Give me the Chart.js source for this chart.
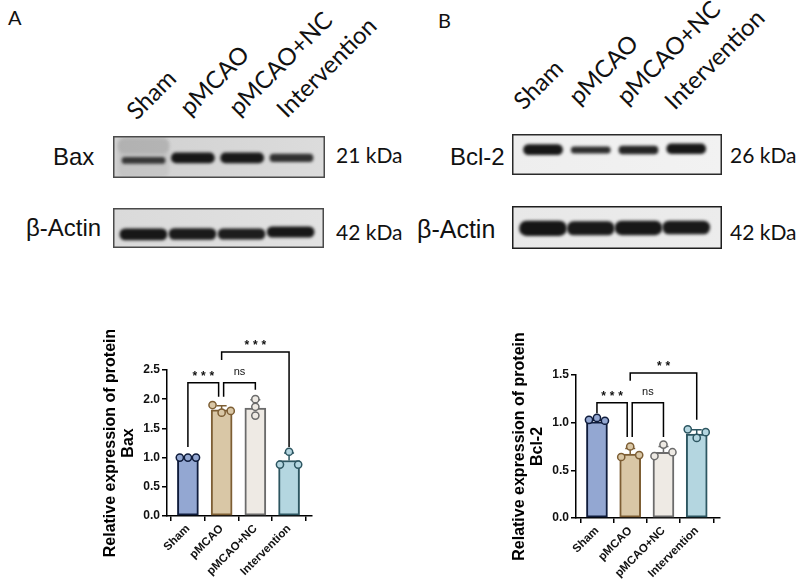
<!DOCTYPE html>
<html>
<head>
<meta charset="utf-8">
<script src="https://cdn.jsdelivr.net/npm/chart.js@4.4.0/dist/chart.umd.min.js"></script>
<style>
  body { margin: 0; background: #fff; width: 806px; height: 584px; position: relative; overflow: hidden; font-family: "Liberation Sans", Arial, sans-serif; }
  canvas { position: absolute; }
  .t { position: absolute; line-height: 1; white-space: nowrap; color: #111; }
  .lat { font-family: Lato, sans-serif; }
  .lane { position: absolute; line-height: 1; white-space: nowrap; font-family: Lato, sans-serif; font-size: 24px; color: #111;
          transform-origin: 0 21.3px; transform: rotate(-45deg); }
</style>
</head>
<body>

<div class="t lat" style="left:8px;top:7px;font-size:20px">A</div>
<div class="t lat" style="left:438px;top:10px;font-size:20px">B</div>

<div class="lane" style="left:137px;top:100px">Sham</div>
<div class="lane" style="left:190px;top:96px">pMCAO</div>
<div class="lane" style="left:239px;top:96px">pMCAO+NC</div>
<div class="lane" style="left:287px;top:98px">Intervention</div>

<div class="lane" style="left:524px;top:90px">Sham</div>
<div class="lane" style="left:579px;top:85px">pMCAO</div>
<div class="lane" style="left:627px;top:85px">pMCAO+NC</div>
<div class="lane" style="left:675px;top:90px">Intervention</div>

<div class="t" style="left:53px;top:145px;font-size:24px">Bax</div>
<div class="t" style="left:26px;top:216px;font-size:24px">β-Actin</div>
<div class="t lat" style="left:336px;top:144px;font-size:21px">21 kDa</div>
<div class="t lat" style="left:336px;top:221px;font-size:21px">42 kDa</div>

<div class="t" style="left:450px;top:145px;font-size:24px">Bcl-2</div>
<div class="t" style="left:417px;top:217px;font-size:25px">β-Actin</div>
<div class="t lat" style="left:730px;top:144px;font-size:21px">26 kDa</div>
<div class="t lat" style="left:730px;top:221px;font-size:21px">42 kDa</div>

<canvas id="blotBax" width="212" height="42" style="left:113px;top:136px"></canvas>
<canvas id="blotActinA" width="211" height="40" style="left:113px;top:208px"></canvas>
<canvas id="blotBcl" width="210" height="41" style="left:512px;top:134px"></canvas>
<canvas id="blotActinB" width="210" height="43" style="left:512px;top:206px"></canvas>

<canvas id="chartBax" width="240" height="250" style="left:85px;top:330px"></canvas>
<canvas id="chartBcl" width="240" height="250" style="left:490px;top:330px"></canvas>

<script>
// groups and values
var groups = ['Sham', 'pMCAO', 'pMCAO+NC', 'Intervention'];

var baxMean = [1.0, 1.82, 1.85, 0.95];
var baxPoints = [[1.0, 1.0, 1.0], [1.9, 1.77, 1.8], [2.0, 1.87, 1.72], [1.1, 0.88, 0.88]];
var baxTicks = [0, 0.5, 1.0, 1.5, 2.0, 2.5];

var bclMean = [1.01, 0.67, 0.69, 0.88];
var bclPoints = [[1.03, 1.05, 1.02], [0.75, 0.64, 0.66], [0.77, 0.65, 0.69], [0.93, 0.84, 0.90]];
var bclTicks = [0, 0.5, 1.0, 1.5];

// western blot bands: vertical centre and height as fraction of the membrane, darkness 0..1
var baxBandY = [0.58, 0.52, 0.52, 0.52];
var baxBandH = [0.15, 0.24, 0.24, 0.18];
var baxBandDark = [0.8, 0.98, 0.97, 0.85];

var actinABandY = [0.66, 0.65, 0.65, 0.6];
var actinABandH = [0.28, 0.27, 0.26, 0.26];
var actinABandDark = [0.98, 0.96, 0.95, 0.98];

var bclBandY = [0.38, 0.39, 0.39, 0.36];
var bclBandH = [0.25, 0.16, 0.19, 0.24];
var bclBandDark = [0.98, 0.88, 0.92, 0.98];

var actinBBandY = [0.52, 0.52, 0.51, 0.5];
var actinBBandH = [0.34, 0.31, 0.32, 0.3];
var actinBBandDark = [0.99, 0.97, 0.98, 0.97];

var fills = ['#93a7d2', '#d9c7a6', '#eeeae4', '#b4d6e0'];
var edges = ['#0f1c3c', '#7d5e34', '#6b6b6b', '#2d5661'];

Chart.defaults.font.family = '"Liberation Sans", Arial, sans-serif';
Chart.defaults.color = '#111';

function stdev(arr) {
  var m = arr.reduce(function (a, b) { return a + b; }, 0) / arr.length;
  var s = arr.reduce(function (a, b) { return a + (b - m) * (b - m); }, 0) / (arr.length - 1);
  return Math.sqrt(s);
}

// spread overlapping dots sideways like a scatter dot plot
function swarm(vals, gap) {
  var idx = vals.map(function (v, i) { return i; }).sort(function (a, b) { return vals[b] - vals[a]; });
  var rows = [];
  idx.forEach(function (i) {
    var row = rows[rows.length - 1];
    if (row && Math.abs(vals[row[0]] - vals[i]) < gap) row.push(i);
    else rows.push([i]);
  });
  var off = [];
  rows.forEach(function (row) {
    row.sort(function (a, b) { return a - b; });
    var step = row.length === 2 ? 0.54 : 0.24;
    row.forEach(function (i, k) { off[i] = (k - (row.length - 1) / 2) * step; });
  });
  return off;
}

function barChart(id, means, points, ticks, yMax, title, xRange, padL, padR, padT, xH, gap, brackets) {
  var dots = [], dotFill = [], dotEdge = [];
  points.forEach(function (p, g) {
    var off = swarm(p, gap);
    p.forEach(function (v, k) {
      dots.push({ x: g + off[k], y: v });
      dotFill.push(fills[g]);
      dotEdge.push(edges[g]);
    });
  });

  var errorBars = {
    id: 'errorBars',
    afterDatasetDraw: function (chart, args) {
      if (args.index !== 0) return;
      var ctx = chart.ctx, x = chart.scales.x, y = chart.scales.y;
      ctx.save();
      ctx.lineWidth = 1.5;
      points.forEach(function (p, i) {
        var px = x.getPixelForValue(i);
        var top = y.getPixelForValue(means[i] + stdev(p));
        var base = y.getPixelForValue(means[i]);
        ctx.strokeStyle = edges[i];
        ctx.beginPath();
        ctx.moveTo(px, base); ctx.lineTo(px, top);
        ctx.moveTo(px - 5, top); ctx.lineTo(px + 5, top);
        ctx.stroke();
      });
      ctx.restore();
    }
  };

  var sig = {
    id: 'sig',
    afterDraw: function (chart) {
      var ctx = chart.ctx, x = chart.scales.x, y = chart.scales.y;
      ctx.save();
      ctx.strokeStyle = '#000';
      ctx.fillStyle = '#111';
      ctx.lineWidth = 1.5;
      ctx.textAlign = 'center';
      ctx.textBaseline = 'alphabetic';
      brackets.forEach(function (b) {
        var xa = x.getPixelForValue(b.from) + b.dxFrom;
        var xb = x.getPixelForValue(b.to) + b.dxTo;
        var yt = y.getPixelForValue(b.level);
        ctx.beginPath();
        ctx.moveTo(xa, y.getPixelForValue(b.fromEnd));
        ctx.lineTo(xa, yt);
        ctx.lineTo(xb, yt);
        ctx.lineTo(xb, y.getPixelForValue(b.toEnd));
        ctx.stroke();
        var cx = (xa + xb) / 2;
        if (b.text.indexOf('*') >= 0) {
          ctx.font = 'bold 12px "Liberation Sans"';
          var n = b.text.length, sp = 8.5;
          for (var k = 0; k < n; k++) ctx.fillText('*', cx + (k - (n - 1) / 2) * sp, yt - 3);
        } else {
          ctx.font = '11px "Liberation Sans"';
          ctx.fillText(b.text, cx, yt - 8);
        }
      });
      ctx.restore();
    }
  };

  return new Chart(document.getElementById(id), {
    type: 'bar',
    data: {
      datasets: [{
        type: 'bar',
        data: means.map(function (m, i) { return { x: i, y: m }; }),
        backgroundColor: fills,
        borderColor: edges,
        borderWidth: 2,
        borderSkipped: false,
        barThickness: 21,
        order: 2
      }, {
        type: 'scatter',
        data: dots,
        pointRadius: 3.6,
        pointBorderWidth: 1.5,
        pointBackgroundColor: dotFill,
        pointBorderColor: dotEdge,
        showLine: false,
        order: 1
      }]
    },
    options: {
      responsive: false,
      animation: false,
      events: [],
      layout: { padding: { left: padL, right: padR, top: padT, bottom: 0 } },
      plugins: { legend: { display: false }, tooltip: { enabled: false } },
      scales: {
        x: {
          type: 'linear',
          min: xRange[0],
          max: xRange[1],
          offset: false,
          afterBuildTicks: function (s) { s.ticks = groups.map(function (g, i) { return { value: i }; }); },
          afterFit: function (s) { s.height = xH; },
          ticks: {
            autoSkip: false,
            minRotation: 45,
            maxRotation: 45,
            padding: 1,
            color: '#111',
            font: { size: 11.5, weight: 'bold' },
            callback: function (v) { return groups[v]; }
          },
          grid: { drawOnChartArea: false, drawTicks: true, tickLength: 5, color: '#000', lineWidth: 1.5 },
          border: { display: true, color: '#000', width: 1.5 }
        },
        y: {
          min: 0,
          max: yMax,
          afterBuildTicks: function (s) { s.ticks = ticks.map(function (v) { return { value: v }; }); },
          afterFit: function (s) { s.width = 65; },
          ticks: {
            padding: 2,
            color: '#111',
            font: { size: 12, weight: 'bold' },
            callback: function (v) { return v.toFixed(1); }
          },
          grid: { drawOnChartArea: false, drawTicks: true, tickLength: 5, color: '#000', lineWidth: 1.5 },
          border: { display: true, color: '#000', width: 1.5 },
          title: {
            display: true,
            text: title,
            color: '#000',
            padding: 0,
            font: { size: 16, weight: 'bold', lineHeight: 1.1 }
          }
        }
      }
    },
    plugins: [errorBars, sig]
  });
}

barChart('chartBax', baxMean, baxPoints, baxTicks, 2.5,
  ['Relative expression of protein', 'Bax'], [-0.62, 3.68], 17, 13, 40, 64, 0.12,
  [
    { from: 0, to: 1, level: 2.28, fromEnd: 1.18, toEnd: 2.04, dxFrom: 0, dxTo: -3, text: '***' },
    { from: 1, to: 2, level: 2.28, fromEnd: 2.04, toEnd: 2.16, dxFrom: 2, dxTo: 0, text: 'ns' },
    { from: 1, to: 3, level: 2.81, fromEnd: 2.67, toEnd: 1.18, dxFrom: 0, dxTo: 0, text: '***' }
  ]);

barChart('chartBcl', bclMean, bclPoints, bclTicks, 1.5,
  ['Relative expression of protein', 'Bcl-2'], [-0.63, 3.7], 21, 10, 45, 62, 0.073,
  [
    { from: 0, to: 1, level: 1.21, fromEnd: 1.1, toEnd: 0.85, dxFrom: 0, dxTo: -3, text: '***' },
    { from: 1, to: 2, level: 1.21, fromEnd: 0.85, toEnd: 0.85, dxFrom: 2, dxTo: 0, text: 'ns' },
    { from: 1, to: 3, level: 1.52, fromEnd: 1.44, toEnd: 1.03, dxFrom: 0, dxTo: 0, text: '**' }
  ]);

// membranes: floating bars blurred into bands
function blot(id, xRange, bg, edge, layers) {
  var membrane = {
    id: 'membrane',
    beforeDraw: function (chart) {
      var a = chart.chartArea, ctx = chart.ctx;
      ctx.save();
      var g = ctx.createLinearGradient(a.left, 0, a.right, 0);
      g.addColorStop(0, bg[0]); g.addColorStop(1, bg[1]);
      ctx.fillStyle = g;
      ctx.fillRect(a.left, a.top, a.right - a.left, a.bottom - a.top);
      ctx.restore();
    },
    beforeDatasetsDraw: function (chart) { chart.ctx.save(); chart.ctx.filter = 'blur(1.4px)'; },
    afterDatasetsDraw: function (chart) { chart.ctx.restore(); },
    afterDraw: function (chart) {
      var a = chart.chartArea, ctx = chart.ctx;
      ctx.save();
      ctx.strokeStyle = edge;
      ctx.lineWidth = 1.5;
      ctx.strokeRect(a.left + 0.75, a.top + 0.75, a.right - a.left - 1.5, a.bottom - a.top - 1.5);
      ctx.restore();
    }
  };
  new Chart(document.getElementById(id), {
    type: 'bar',
    data: {
      datasets: layers.map(function (L) {
        return {
          data: L.y.map(function (c, i) { return { x: i, y: [c - L.h[i] / 2, c + L.h[i] / 2] }; }),
          backgroundColor: L.dark.map(function (d) { return 'rgba(18,18,18,' + d + ')'; }),
          borderWidth: 0,
          borderRadius: L.r,
          borderSkipped: false,
          barThickness: L.w,
          stack: 'lane'
        };
      })
    },
    options: {
      responsive: false,
      animation: false,
      events: [],
      layout: { padding: 0 },
      plugins: { legend: { display: false }, tooltip: { enabled: false } },
      scales: {
        x: { type: 'linear', min: xRange[0], max: xRange[1], offset: false, grid: { offset: false }, display: false },
        y: { min: 0, max: 1, reverse: true, stacked: false, display: false }
      }
    },
    plugins: [membrane]
  });
}

blot('blotBax', [-0.62, 3.68], ['#d0d0d0', '#dcdcdc'], '#4a4a4a', [
  { y: [0.5], h: [0.96], dark: [0.06], w: 50, r: 6 },
  { y: [0.24], h: [0.36], dark: [0.1], w: 52, r: 20 },
  { y: baxBandY, h: baxBandH, dark: baxBandDark, w: 43, r: 20 }
]);
blot('blotActinA', [-0.62, 3.68], ['#dadada', '#e2e2e2'], '#4a4a4a', [
  { y: actinABandY, h: actinABandH, dark: actinABandDark, w: 47, r: 20 }
]);
blot('blotBcl', [-0.65, 3.75], ['#eeeeee', '#f2f2f2'], '#2a2a2a', [
  { y: bclBandY, h: bclBandH, dark: bclBandDark, w: 39, r: 20 }
]);
blot('blotActinB', [-0.65, 3.75], ['#e8e8e8', '#ececec'], '#1e1e1e', [
  { y: actinBBandY, h: actinBBandH, dark: actinBBandDark, w: 47, r: 20 }
]);
</script>
</body>
</html>
